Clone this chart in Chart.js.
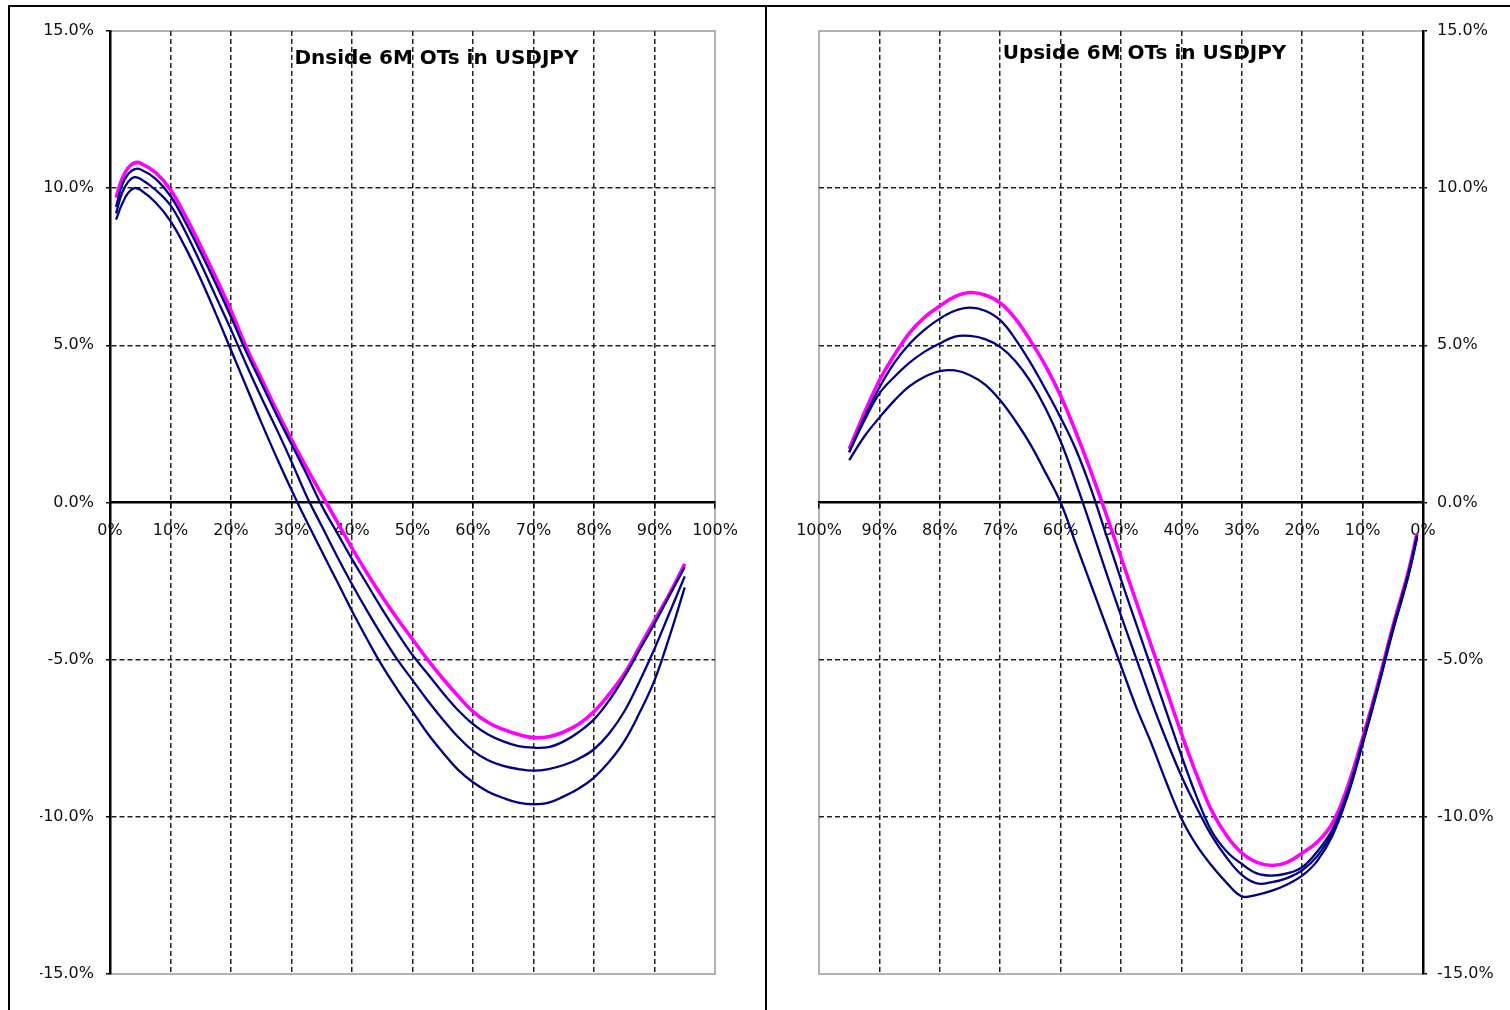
<!DOCTYPE html>
<html><head><meta charset="utf-8">
<script src="https://cdn.jsdelivr.net/npm/chart.js@4.4.0/dist/chart.umd.min.js"></script>
<style>
html,body{margin:0;padding:0;background:#fff;width:1510px;height:1010px;overflow:hidden;}
#wrapL{position:absolute;left:0;top:0;width:765px;height:1010px;}
#wrapR{position:absolute;left:767px;top:0;width:743px;height:1010px;}
.ln{position:absolute;background:#000;z-index:5;}
</style></head><body>
<div id="wrapL"><canvas id="cL"></canvas></div>
<div id="wrapR"><canvas id="cR"></canvas></div>
<div class="ln" style="left:8px;top:5px;width:1502px;height:2px;"></div>
<div class="ln" style="left:8px;top:5px;width:2px;height:1005px;"></div>
<div class="ln" style="left:765px;top:5px;width:2px;height:1005px;"></div>
<script>
// ---- Data (values in %) ----
const xLeft = [1,2,3,4,5,7.5,10,12.5,15,17.5,20,22.5,25,27.5,30,32.5,35,37.5,40,42.5,45,47.5,50,52.5,55,57.5,60,62.5,65,67.5,70,72.5,75,77.5,80,82.5,85,87.5,90,92.5,95];
const dnMagenta = [9.7,10.3,10.65,10.8,10.8,10.5,9.95,9.1,8.15,7.15,6.1,4.95,3.95,2.95,2.0,1.1,0.25,-0.6,-1.45,-2.25,-3.0,-3.7,-4.35,-5.0,-5.6,-6.15,-6.65,-7.0,-7.22,-7.38,-7.48,-7.45,-7.3,-7.05,-6.65,-6.1,-5.45,-4.6,-3.75,-2.9,-1.95];
const dnNavy1 = [9.4,10.1,10.45,10.6,10.6,10.3,9.75,8.9,7.95,6.95,5.9,4.8,3.8,2.8,1.85,0.9,-0.1,-0.95,-1.8,-2.6,-3.4,-4.15,-4.85,-5.45,-6.05,-6.6,-7.05,-7.38,-7.6,-7.75,-7.8,-7.78,-7.6,-7.3,-6.9,-6.3,-5.55,-4.7,-3.85,-2.95,-2.05];
const dnNavy2 = [9.2,9.85,10.2,10.35,10.3,9.95,9.45,8.6,7.6,6.55,5.5,4.4,3.35,2.35,1.3,0.2,-0.75,-1.7,-2.6,-3.45,-4.25,-5.0,-5.65,-6.3,-6.9,-7.45,-7.9,-8.2,-8.38,-8.48,-8.53,-8.48,-8.35,-8.15,-7.85,-7.35,-6.65,-5.7,-4.65,-3.5,-2.35];
const dnNavy3 = [9.0,9.5,9.85,10.0,9.95,9.55,8.95,8.1,7.1,6.0,4.85,3.7,2.55,1.45,0.4,-0.6,-1.55,-2.5,-3.45,-4.35,-5.2,-5.95,-6.65,-7.35,-7.95,-8.5,-8.9,-9.2,-9.4,-9.55,-9.6,-9.55,-9.35,-9.1,-8.75,-8.25,-7.6,-6.7,-5.66,-4.25,-2.7];

const xRight = [1,2.5,5,7.5,10,12.5,15,17.5,20,22.5,25,27.5,30,32.5,35,37.5,40,42.5,45,47.5,50,52.5,55,57.5,60,62.5,65,67.5,70,72.5,75,77.5,80,82.5,85,87.5,90,92.5,95];
const upMagenta = [-1.0,-2.25,-3.95,-5.8,-7.5,-9.05,-10.2,-10.8,-11.15,-11.45,-11.55,-11.45,-11.15,-10.6,-9.8,-8.65,-7.35,-5.95,-4.55,-3.15,-1.75,-0.35,1.0,2.25,3.4,4.35,5.15,5.85,6.35,6.6,6.68,6.55,6.25,5.9,5.4,4.7,3.88,2.85,1.7];
const upNavy1 = [-1.05,-2.3,-4.0,-5.85,-7.6,-9.2,-10.4,-11.1,-11.6,-11.8,-11.87,-11.8,-11.5,-11.1,-10.45,-9.35,-8.05,-6.65,-5.25,-3.85,-2.45,-1.0,0.45,1.7,2.7,3.6,4.45,5.2,5.8,6.1,6.2,6.1,5.85,5.5,5.05,4.45,3.66,2.7,1.6];
const upNavy2 = [-1.1,-2.35,-4.05,-5.9,-7.65,-9.3,-10.5,-11.25,-11.7,-11.95,-12.08,-12.12,-11.85,-11.3,-10.6,-9.7,-8.7,-7.55,-6.3,-4.95,-3.6,-2.2,-0.75,0.65,1.95,3.0,3.85,4.5,4.95,5.2,5.3,5.28,5.06,4.8,4.45,4.0,3.47,2.6,1.6];
const upNavy3 = [-1.15,-2.4,-4.1,-5.95,-7.7,-9.35,-10.6,-11.4,-11.87,-12.15,-12.35,-12.48,-12.53,-12.1,-11.55,-10.9,-10.05,-8.9,-7.65,-6.5,-5.2,-3.9,-2.6,-1.3,0.0,0.95,1.85,2.6,3.25,3.75,4.05,4.2,4.18,4.0,3.7,3.25,2.7,2.1,1.35];

const titles = ['Dnside 6M OTs in USDJPY', 'Upside 6M OTs in USDJPY'];
const xTickStep = 10, yTickStep = 5, yMin = -15, yMax = 15, xMin = 0, xMax = 100;

// ---- Chart setup ----
Chart.defaults.font.family = '"DejaVu Sans", sans-serif';
Chart.defaults.font.size = 16;
Chart.defaults.color = '#111';

const NAVY = '#000080', MAGENTA = '#FF00FF', CLEAR = 'rgba(0,0,0,0)', GRID = '#222';

const panelDecor = {
  id: 'panelDecor',
  beforeDraw(chart, args, opts) {
    const {ctx, chartArea: a} = chart;
    ctx.save();
    ctx.strokeStyle = '#999';
    ctx.lineWidth = 1.5;
    ctx.strokeRect(a.left, a.top, a.right - a.left, a.bottom - a.top);
    ctx.restore();
  },
  afterDraw(chart, args, opts) {
    const {ctx, chartArea: a} = chart;
    ctx.save();
    ctx.font = 'bold 20px "DejaVu Sans", sans-serif';
    ctx.fillStyle = '#000';
    ctx.textAlign = 'center';
    ctx.textBaseline = 'middle';
    ctx.fillText(opts.text, a.left + opts.dx, a.top + opts.dy);
    ctx.restore();
  }
};

function pts(xs, ys) { return xs.map((x, i) => ({x: x, y: ys[i]})); }

function ds(xs, ys, color, width) {
  return {data: pts(xs, ys), borderColor: color, backgroundColor: color, borderWidth: width,
          pointRadius: 0, tension: 0.4, fill: false};
}

function makeChart(id, xs, series, right, title, dx, dy, pad) {
  return new Chart(document.getElementById(id), {
    type: 'line',
    data: {datasets: [
      ds(xs, series[1], NAVY, 2.3),
      ds(xs, series[2], NAVY, 2.3),
      ds(xs, series[3], NAVY, 2.3),
      ds(xs, series[0], MAGENTA, 3.6)
    ]},
    plugins: [panelDecor],
    options: {
      responsive: true, maintainAspectRatio: false, animation: false,
      layout: {padding: pad},
      plugins: {legend: {display: false}, tooltip: {enabled: false},
                panelDecor: {text: title, dx: dx, dy: dy}},
      scales: {
        x: {
          type: 'linear', min: xMin, max: xMax, reverse: right,
          position: {y: 0},
          border: {display: true, color: '#000', width: 2.5, dash: [5, 3]},
          grid: {
            color: c => (c.tick && (c.tick.value === xMin || c.tick.value === xMax)) ? CLEAR : GRID,
            lineWidth: 1.5, tickColor: '#000', tickLength: 5, tickWidth: 1.5
          },
          ticks: {stepSize: xTickStep, autoSkip: false, maxRotation: 0, padding: 14,
                  callback: v => v + '%'}
        },
        y: {
          type: 'linear', min: yMin, max: yMax, position: right ? 'right' : 'left',
          afterFit: s => { s.width = 70; },
          border: {display: true, color: '#000', width: 2.5, dash: [5, 3]},
          grid: {
            color: c => (c.tick && (Math.abs(c.tick.value) === yMax || c.tick.value === 0)) ? CLEAR : GRID,
            lineWidth: 1.5, tickColor: '#000', tickLength: 4, tickWidth: 1.5
          },
          ticks: {stepSize: yTickStep, padding: right ? 10 : 12,
                  callback: v => v.toFixed(1) + '%'}
        }
      }
    }
  });
}

makeChart('cL', xLeft, [dnMagenta, dnNavy1, dnNavy2, dnNavy3], false, titles[0], 326.5, 28,
          {left: 40, right: 50, top: 31, bottom: 36});
makeChart('cR', xRight, [upMagenta, upNavy1, upNavy2, upNavy3], true, titles[1], 325.5, 23,
          {left: 52, right: 17, top: 31, bottom: 36});
</script>
</body></html>
